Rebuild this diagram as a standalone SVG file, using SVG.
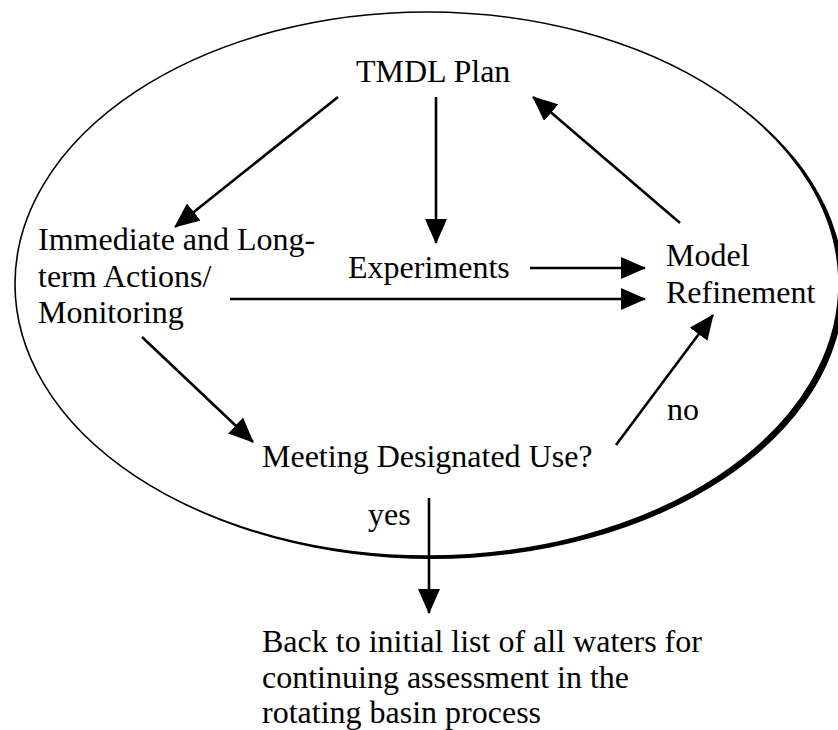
<svg xmlns="http://www.w3.org/2000/svg" width="838" height="730" viewBox="0 0 838 730">
<defs>
<style>
text{font-family:"Liberation Serif","Times New Roman",serif;font-size:32px;fill:#000}
.c{stroke:#000;stroke-width:2.6;fill:none;marker-end:url(#ah)}
</style>
<marker id="ah" markerUnits="userSpaceOnUse" markerWidth="25" markerHeight="22" refX="24" refY="11" orient="auto">
<path d="M0,0 L25,11 L0,22 z" fill="#000"/>
</marker>
</defs>
<rect width="838" height="730" fill="#fff"/>
<g id="loop">
<ellipse cx="432" cy="287" rx="412" ry="272" fill="#000"/>
<ellipse cx="427" cy="284" rx="412" ry="272" fill="#fff" stroke="#000" stroke-width="1.6"/>
</g>
<g id="connectors">
<line class="c" x1="338" y1="97" x2="175" y2="227"/>
<line class="c" x1="436" y1="97" x2="436" y2="243"/>
<line class="c" x1="680" y1="223" x2="533" y2="97"/>
<line class="c" x1="530" y1="268" x2="645" y2="268"/>
<line class="c" x1="230" y1="299" x2="645" y2="299"/>
<line class="c" x1="142" y1="337" x2="253" y2="442"/>
<line class="c" x1="616" y1="445" x2="713" y2="315"/>
<line class="c" x1="429" y1="498" x2="429" y2="613"/>
</g>
<g id="tmdl"><text x="356" y="82">TMDL Plan</text></g>
<g id="actions"><text x="38" y="250">Immediate and Long-</text><text x="38" y="287">term Actions/</text><text x="38" y="323">Monitoring</text></g>
<g id="experiments"><text x="348" y="278">Experiments</text></g>
<g id="model"><text x="666" y="266">Model</text><text x="666" y="303">Refinement</text></g>
<g id="meeting"><text x="262" y="467">Meeting Designated Use?</text></g>
<g id="no-label"><text x="667" y="420">no</text></g>
<g id="yes-label"><text x="368" y="525">yes</text></g>
<g id="back"><text x="262" y="652">Back to initial list of all waters for</text><text x="262" y="688">continuing assessment in the</text><text x="262" y="723">rotating basin process</text></g>
</svg>
